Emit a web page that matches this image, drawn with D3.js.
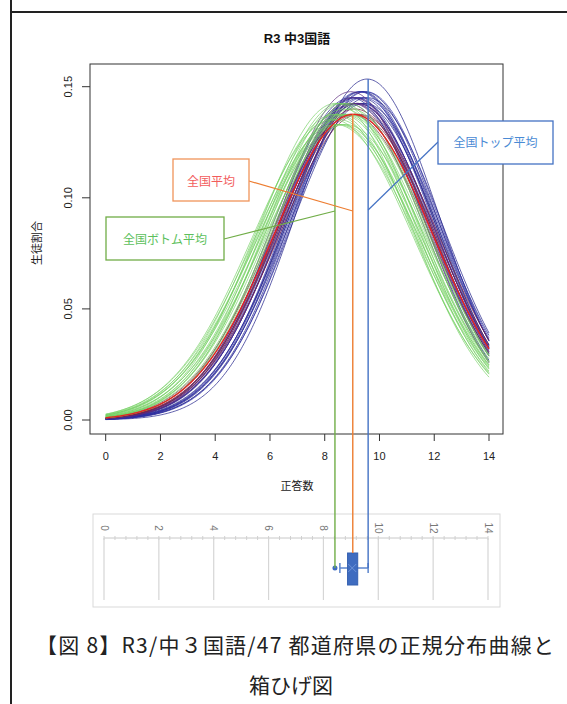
<!DOCTYPE html>
<html><head><meta charset="utf-8">
<script src="https://cdn.jsdelivr.net/npm/d3@7"></script>
<style>
html,body{margin:0;padding:0;background:#fff;}
svg{display:block;}
</style></head>
<body>
<svg id="chart" width="567" height="704"></svg>
<script>
// ---- data ----
const title = "R3 中3国語";
const xLabel = "正答数";
const yLabel = "生徒割合";
const xTicks = [0, 2, 4, 6, 8, 10, 12, 14];
const yTicks = [0.00, 0.05, 0.10, 0.15];
const yTickLabels = ["0.00", "0.05", "0.10", "0.15"];
// 47 prefectures: mean, sd, colour group
const prefMeans = [8.30,8.35,8.40,8.40,8.45,8.50,8.55,8.60,8.60,8.65,8.70,8.70,8.75,8.80,8.85,8.90,8.95,8.50,
                   8.95,9.05,9.10,9.15,9.20,9.25,9.30,9.35,9.40,9.55,9.45,9.50,9.55,9.45,9.30,9.20,9.35,
                   8.85,8.95,9.00,9.05,9.10,9.15,9.20,8.95,9.25,9.05,9.10];
const prefSDs   = [2.95,2.90,3.00,2.80,2.90,3.00,2.80,2.90,3.00,2.80,2.90,2.85,3.00,2.90,2.80,2.90,2.85,2.95,
                   2.75,2.80,2.75,2.75,2.80,2.70,2.75,2.80,2.75,2.60,2.80,2.70,2.75,2.70,2.70,2.80,2.70,
                   2.80,2.90,2.80,2.90,2.80,2.90,2.80,2.70,2.90,2.75,2.85];
const prefGroups = ["g","g","g","g","g","g","g","g","g","g","g","g","g","g","g","g","g","g",
                    "n","n","b","n","n","b","n","n","b","n","n","b","n","n","n","b","n",
                    "p","m","p","m","p","m","p","p","m","p","m"];
const nationalMean = 9.05, nationalSD = 2.90;
// box plot of prefecture means
const boxAxisTicks = [0, 2, 4, 6, 8, 10, 12, 14];
const boxOutlier = 8.42, boxWhiskerLow = 8.60, boxQ1 = 8.88, boxMedian = 9.07, boxMean = 9.05, boxQ3 = 9.25, boxWhiskerHigh = 9.63;
// annotations: label, group peak (mean, sd), box value where the connector ends
const annLabels = ["全国ボトム平均", "全国平均", "全国トップ平均"];
const annPeakMeans = [8.42, 9.05, 9.58];
const annPeakSDs = [3.00, 2.90, 2.60];
const annBoxValues = [boxOutlier, boxMedian, boxWhiskerHigh];
const caption1 = "【図 8】R3/中３国語/47 都道府県の正規分布曲線と";
const caption2 = "箱ひげ図";

// ---- drawing ----
const svg = d3.select("#chart");
const FONT = "'Liberation Sans', Arial, 'Noto Sans CJK JP', sans-serif";
const JFONT = "'Noto Sans CJK JP', sans-serif";

// page frame
svg.append("line").attr("x1",11).attr("x2",11).attr("y1",0).attr("y2",704).attr("stroke","#222").attr("stroke-width",2);
svg.append("line").attr("x1",11).attr("x2",567).attr("y1",12).attr("y2",12).attr("stroke","#222").attr("stroke-width",2);

const x = d3.scaleLinear().domain([0,14]).range([105.7,489]);
const y = d3.scaleLinear().domain([0,0.15]).range([420,86.7]);
const pdf = (v,m,s) => Math.exp(-0.5*((v-m)/s)**2)/(s*Math.sqrt(2*Math.PI));

svg.append("text").attr("x",297).attr("y",43).attr("text-anchor","middle")
  .attr("font-family",FONT).attr("font-weight","bold").attr("font-size",13).attr("fill","#111").text(title);

// curves
const colors = {g:"#74cf62", n:"#20208a", b:"#3030a8", p:"#5b2a7e", m:"#7d2040"};
const grid = d3.range(0, 14.0001, 0.05);
const line = d3.line().x(d=>x(d[0])).y(d=>y(d[1])).curve(d3.curveLinear);
const plotG = svg.append("g");
const order = ["n","b","p","m","g"];
order.forEach(gr=>{
  prefMeans.forEach((m,i)=>{
    if(prefGroups[i]!==gr) return;
    plotG.append("path").datum(grid.map(v=>[v,pdf(v,m,prefSDs[i])]))
      .attr("d",line).attr("fill","none").attr("stroke",colors[gr])
      .attr("stroke-width",0.85).attr("stroke-opacity",gr==="g"?0.8:0.85);
  });
});
plotG.append("path").datum(grid.map(v=>[v,pdf(v,nationalMean,nationalSD)]))
  .attr("d",line).attr("fill","none").attr("stroke","#e8211f").attr("stroke-width",1.3);

// plot frame
svg.append("rect").attr("x",90).attr("y",64).attr("width",413).attr("height",370)
  .attr("fill","none").attr("stroke","#333").attr("stroke-width",1);

// x axis
const xa = svg.append("g");
xTicks.forEach(t=>{
  xa.append("line").attr("x1",x(t)).attr("x2",x(t)).attr("y1",434).attr("y2",441).attr("stroke","#333");
  xa.append("text").attr("x",x(t)).attr("y",460).attr("text-anchor","middle")
    .attr("font-family",FONT).attr("font-size",11).attr("fill","#222").text(t);
});
svg.append("text").attr("x",297).attr("y",490).attr("text-anchor","middle")
  .attr("font-family",JFONT).attr("font-size",11).attr("fill","#222").text(xLabel);

// y axis
yTicks.forEach((t,i)=>{
  svg.append("line").attr("x1",82).attr("x2",90).attr("y1",y(t)).attr("y2",y(t)).attr("stroke","#333");
  svg.append("text").attr("transform",`translate(72,${y(t)}) rotate(-90)`).attr("text-anchor","middle")
    .attr("font-family",FONT).attr("font-size",11).attr("fill","#222").text(yTickLabels[i]);
});
svg.append("text").attr("transform","translate(41,243) rotate(-90)").attr("text-anchor","middle")
  .attr("font-family",JFONT).attr("font-size",11).attr("fill","#222").text(yLabel);

// box plot panel
const bx = d3.scaleLinear().domain([0,14]).range([104,488]);
const bp = svg.append("g");
bp.append("rect").attr("x",93).attr("y",514).attr("width",407).attr("height",93)
  .attr("fill","#fff").attr("stroke","#d9d9d9").attr("stroke-width",1);
bp.append("line").attr("x1",bx(0)).attr("x2",bx(14)).attr("y1",538).attr("y2",538).attr("stroke","#c8c8c8");
d3.range(0,14.0001,0.4).forEach(t=>{
  bp.append("line").attr("x1",bx(t)).attr("x2",bx(t)).attr("y1",536).attr("y2",540).attr("stroke","#d0d0d0");
});
boxAxisTicks.forEach(t=>{
  bp.append("line").attr("x1",bx(t)).attr("x2",bx(t)).attr("y1",538).attr("y2",600).attr("stroke","#d6d6d6").attr("stroke-width",1.2);
  bp.append("text").attr("transform",`translate(${bx(t)-3.5},528) rotate(90)`).attr("text-anchor","middle")
    .attr("font-family",FONT).attr("font-size",10).attr("fill","#777").text(t);
});
const by = 568;
bp.append("line").attr("x1",bx(boxWhiskerLow)).attr("x2",bx(boxWhiskerHigh)).attr("y1",by).attr("y2",by).attr("stroke","#5b84cc").attr("stroke-width",1.5);
[boxWhiskerLow,boxWhiskerHigh].forEach(v=>{
  bp.append("line").attr("x1",bx(v)).attr("x2",bx(v)).attr("y1",by-5).attr("y2",by+5).attr("stroke","#5b84cc").attr("stroke-width",1.5);
});
bp.append("rect").attr("x",bx(boxQ1)).attr("y",553).attr("width",bx(boxQ3)-bx(boxQ1)).attr("height",32)
  .attr("fill","#3f6cc0").attr("stroke","#3560b0");
const mx = bx(boxMean);
bp.append("path").attr("d",`M${mx-4},${by-4}L${mx+4},${by+4}M${mx-4},${by+4}L${mx+4},${by-4}`)
  .attr("stroke","#6d93d8").attr("stroke-width",1);
bp.append("circle").attr("cx",bx(boxOutlier)).attr("cy",by).attr("r",2.5).attr("fill","#3f6cc0");

// annotation connectors
const annColors = ["#70ad47","#ed7d31","#4472c4"];
const annEnds = [by, 553, by];
const anns = svg.append("g");
annLabels.forEach((l,i)=>{
  const xx = bx(annBoxValues[i]);
  anns.append("line").attr("x1",xx).attr("x2",xx)
    .attr("y1",y(pdf(annPeakMeans[i],annPeakMeans[i],annPeakSDs[i]))).attr("y2",annEnds[i])
    .attr("stroke",annColors[i]).attr("stroke-width",1.4);
});
// label boxes
const boxes = [
  {x:106,y:217,w:118,h:43,ly:239,tx:"#5cbf5c",bc:"#70ad47",jy:211},
  {x:173,y:159,w:76,h:42,ly:181,tx:"#f25c5c",bc:"#f0945a",jy:211},
  {x:438,y:121,w:115,h:43,ly:142,tx:"#4a8ad4",bc:"#4472c4",jy:210}
];
boxes.forEach((b,i)=>{
  const xx = bx(annBoxValues[i]);
  const sx = i===2 ? b.x : b.x+b.w;
  anns.append("line").attr("x1",sx).attr("y1",b.ly).attr("x2",xx).attr("y2",b.jy)
    .attr("stroke",annColors[i]).attr("stroke-width",1.2);
  anns.append("rect").attr("x",b.x).attr("y",b.y).attr("width",b.w).attr("height",b.h)
    .attr("fill","#fff").attr("stroke",b.bc).attr("stroke-width",1.3);
  anns.append("text").attr("x",b.x+b.w/2).attr("y",b.ly+4.5).attr("text-anchor","middle")
    .attr("font-family",JFONT).attr("font-size",12).attr("fill",b.tx).text(annLabels[i]);
});

// caption
svg.append("text").attr("x",295).attr("y",653).attr("text-anchor","middle")
  .attr("font-family",JFONT).attr("font-size",21).attr("fill","#222").attr("textLength",518).text(caption1);
svg.append("text").attr("x",291).attr("y",693).attr("text-anchor","middle")
  .attr("font-family",JFONT).attr("font-size",21).attr("fill","#222").text(caption2);
</script>
</body></html>
